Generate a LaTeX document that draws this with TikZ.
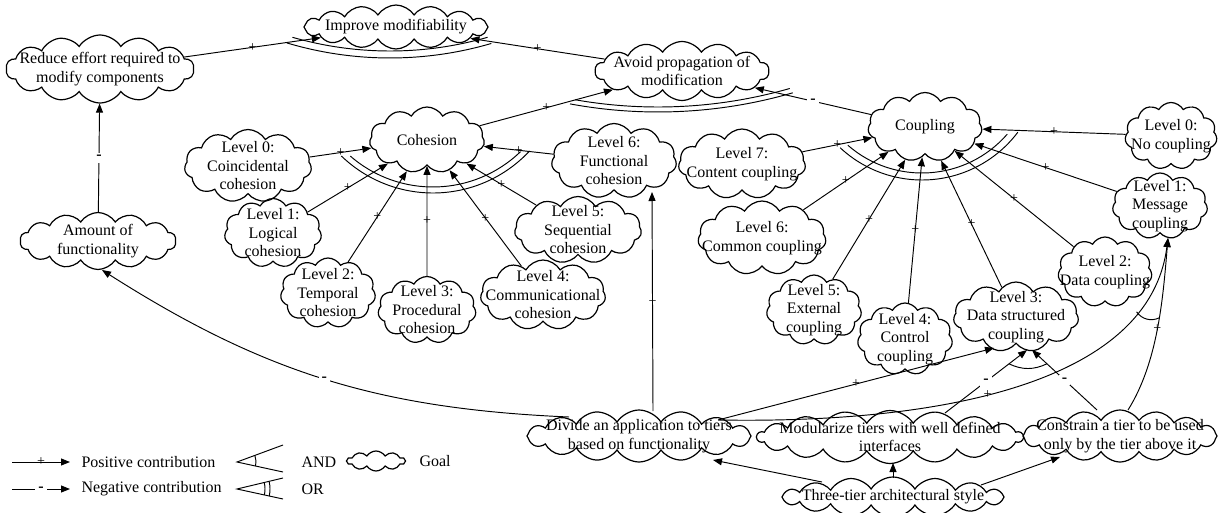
\documentclass[tikz,border=0pt]{standalone}
\usepackage{fontspec}
\setmainfont{Liberation Serif}
\usetikzlibrary{shapes.symbols,arrows.meta}

\begin{document}
\begin{tikzpicture}[
    x=1pt,y=1pt,>={Triangle[length=9pt,width=7pt]},
    font=\fontsize{16}{18.5}\selectfont,
    goal/.style={cloud,cloud puffs=11,cloud puff arc=120,cloud ignores aspect,draw,line width=1.2pt,inner sep=0pt},
    wide goal/.style={goal,cloud puffs=16,cloud puff arc=115},
    goal size/.style 2 args={minimum width=#1pt,minimum height=#2pt},
    goal text/.style={align=center,inner sep=0pt},
    contrib/.style={->,line width=.95pt},
    plus sign/.style={midway,inner sep=0pt,font=\fontsize{14}{14}\selectfont},
    minus sign/.style={midway,fill=white,inner sep=3pt,font=\fontsize{16}{16}\selectfont\bfseries},
    decomp/.style={line width=.95pt}
  ]
    \useasboundingbox (0,0) rectangle (1222,-513);

    % Top softgoals
    \node[wide goal,goal size={184}{44},label={[goal text]center:{Improve modifiability}}] (imp) at (396,-27) {};
    \node[wide goal,cloud puffs=14,goal size={188}{68},label={[goal text]center:{Reduce effort required to\\modify components}}] (red) at (100,-69) {};
    \node[wide goal,cloud puffs=14,goal size={174}{59},label={[goal text]center:{Avoid propagation of\\modification}}] (avoid) at (682,-71) {};
    \node[wide goal,cloud puffs=14,goal size={156}{57},label={[goal text]center:{Amount of\\functionality}}] (amt) at (98,-241) {};

    % Cohesion and its levels
    \node[goal,goal size={115}{66},label={[goal text]center:{Cohesion}}] (coh) at (427,-140) {};
    \node[goal,goal size={127}{73},label={[goal text]center:{Level 0:\\Coincidental\\cohesion}}] (c0) at (248,-166) {};
    \node[goal,goal size={97}{69},label={[goal text]center:{Level 1:\\Logical\\cohesion}}] (c1) at (273,-233) {};
    \node[goal,goal size={95}{70},label={[goal text]center:{Level 2:\\Temporal\\cohesion}}] (c2) at (328,-293) {};
    \node[goal,goal size={98}{67},label={[goal text]center:{Level 3:\\Procedural\\cohesion}}] (c3) at (427,-310) {};
    \node[goal,goal size={125}{70},label={[goal text]center:{Level 4:\\Communicational\\cohesion}}] (c4) at (543,-295) {};
    \node[goal,goal size={127}{67},label={[goal text]center:{Level 5:\\Sequential\\cohesion}}] (c5) at (578,-230) {};
    \node[goal,goal size={125}{75},label={[goal text]center:{Level 6:\\Functional\\cohesion}}] (c6) at (614,-161) {};

    % Coupling and its levels
    \node[goal,goal size={114}{69},label={[goal text]center:{Coupling}}] (coup) at (925,-127) {};
    \node[goal,goal size={127}{70},label={[goal text]center:{Level 7:\\Content coupling}}] (u7) at (742,-164) {};
    \node[goal,goal size={128}{74},label={[goal text]center:{Level 6:\\Common coupling}}] (u6) at (762,-238) {};
    \node[goal,goal size={95}{70},label={[goal text]center:{Level 5:\\External\\coupling}}] (u5) at (814,-310) {};
    \node[goal,goal size={95}{72},label={[goal text]center:{Level 4:\\Control\\coupling}}] (u4) at (905,-339) {};
    \node[goal,goal size={125}{70},label={[goal text]center:{Level 3:\\Data structured\\coupling}}] (u3) at (1016,-317) {};
    \node[goal,goal size={94}{70},label={[goal text]center:{Level 2:\\Data coupling}}] (u2) at (1105,-272) {};
    \node[goal,goal size={95}{66},label={[goal text]center:{Level 1:\\Message\\coupling}}] (u1) at (1160,-206) {};
    \node[goal,goal size={92}{67},label={[goal text]center:{Level 0:\\No coupling}}] (u0) at (1171,-136) {};

    % Tactics of the architectural style
    \node[wide goal,goal size={224}{52},label={[goal text]center:{Divide an application to tiers\\based on functionality}}] (div) at (639,-436) {};
    \node[wide goal,cloud puffs=18,goal size={266}{53},label={[goal text]center:{Modularize tiers with well defined\\interfaces}}] (mod) at (890,-437) {};
    \node[wide goal,goal size={194}{52},label={[goal text]center:{Constrain a tier to be used\\only by the tier above it}}] (con) at (1120,-436) {};
    \node[wide goal,goal size={222}{40},label={[goal text]center:{Three-tier architectural style}}] (three) at (893,-497) {};

    % Contributions to the top softgoals
    \draw[contrib] (red) -- node[plus sign]{+} (imp);
    \draw[contrib] (avoid) -- node[plus sign]{+} (imp);
    \draw[contrib] (coh) -- node[plus sign]{+} (avoid);
    \draw[contrib] (coup) -- node[minus sign]{-} (avoid);
    \draw[contrib] (amt) -- node[minus sign]{-} (red);

    % Cohesion levels
    \draw[contrib] (c0) -- node[plus sign]{+} (coh);
    \draw[contrib] (c1) -- node[plus sign]{+} (coh);
    \draw[contrib] (c2) -- node[plus sign]{+} (coh);
    \draw[contrib] (c3) -- node[plus sign]{+} (coh);
    \draw[contrib] (c4) -- node[plus sign]{+} (coh);
    \draw[contrib] (c5) -- node[plus sign]{+} (coh);
    \draw[contrib] (c6) -- node[plus sign]{+} (coh);

    % Coupling levels
    \draw[contrib] (u7) -- node[plus sign]{+} (coup);
    \draw[contrib] (u6) -- node[plus sign]{+} (coup);
    \draw[contrib] (u5) -- node[plus sign]{+} (coup);
    \draw[contrib] (u4) -- node[plus sign]{+} (coup);
    \draw[contrib] (u3) -- node[plus sign]{+} (coup);
    \draw[contrib] (u2) -- node[plus sign]{+} (coup);
    \draw[contrib] (u1) -- node[plus sign]{+} (coup);
    \draw[contrib] (u0) -- node[plus sign]{+} (coup);

    % OR decompositions (double arcs)
    \draw[decomp] (390,303) ++(-106.6:361) arc[start angle=-106.6,end angle=-73.7,radius=361];
    \draw[decomp] (390,303) ++(-106:354) arc[start angle=-106,end angle=-74,radius=354];
    \draw[decomp] (658,371) ++(-100.5:483) arc[start angle=-100.5,end angle=-73.8,radius=483];
    \draw[decomp] (658,371) ++(-100:478) arc[start angle=-100,end angle=-74,radius=478];
    \draw[decomp] (433,-61) ++(-134:132) arc[start angle=-134,end angle=-43,radius=132];
    \draw[decomp] (433,-61) ++(-131:126) arc[start angle=-131,end angle=-46,radius=126];
    \draw[decomp] (922,-60) ++(-133:120) arc[start angle=-133,end angle=-37,radius=120];
    \draw[decomp] (922,-60) ++(-131:113) arc[start angle=-131,end angle=-41,radius=113];

    % Tactics
    \draw[contrib] ([shift={(14,25)}]div.center) -- node[plus sign]{+} ([shift={(38,-31)}]c6.center);
    \draw[contrib] ([shift={(-70,19)}]div.center) to[bend left=15] node[minus sign]{-} ([shift={(4,-29)}]amt.center);
    \draw[contrib] ([shift={(79,16)}]div.center) -- node[plus sign]{+} ([shift={(-22,-31)}]u3.center);
    \draw[contrib] ([shift={(79,16)}]div.center) .. controls +(232,-4) and +(-18,-142) ..
      node[plus sign,pos=.43]{+} coordinate[pos=.8] (and1l) ([shift={(8,-32)}]u1.center);
    \draw[contrib] ([shift={(55,24)}]mod.center) -- node[minus sign]{-} coordinate[pos=.78] (and3l) ([shift={(11,-33)}]u3.center);
    \draw[contrib] ([shift={(-23,26)}]con.center) -- node[minus sign]{-} coordinate[pos=.77] (and3r) ([shift={(16,-33)}]u3.center);
    \draw[contrib] ([shift={(8,26)}]con.center) .. controls +(30,48) and +(-5,-60) ..
      node[plus sign]{+} coordinate[pos=.56] (and1r) ([shift={(8,-32)}]u1.center);

    % AND decompositions
    \draw[decomp] (and3l) to[bend right=25] (and3r);
    \draw[decomp] (and1l) to[bend right=40] (and1r);

    % The style realises the three tactics
    \draw[contrib] ([shift={(-71,15)}]three.center) -- ([shift={(74,-24)}]div.center);
    \draw[contrib] ([shift={(0,19)}]three.center) -- ([shift={(3,-26)}]mod.center);
    \draw[contrib] ([shift={(88,12)}]three.center) -- ([shift={(-60,-21)}]con.center);

    % Legend
    \coordinate (lgpa) at (12,-462);
    \coordinate (lgpb) at (70,-462);
    \draw[contrib] (lgpa) -- node[plus sign]{+} (lgpb);
    \node[anchor=west] (lgpos) at (78,-462) {Positive contribution};
    \coordinate (lgna) at (12,-489);
    \coordinate (lgnb) at (70,-489);
    \draw[contrib] (lgna) -- node[minus sign]{-} (lgnb);
    \node[anchor=west] (lgneg) at (78,-489) {Negative contribution};

    \coordinate (lgand) at (237,-462);
    \draw[decomp] (283,-445) -- (lgand) -- (283,-472);
    \draw[decomp] (lgand) ++(20:19) arc[start angle=20,end angle=-12,radius=19];
    \node[anchor=west] (lgandtext) at (298,-462) {AND};
    \coordinate (lgor) at (237,-489);
    \draw[decomp] (283,-478) -- (lgor) -- (283,-499);
    \draw[decomp] (lgor) ++(13:28) arc[start angle=13,end angle=-12,radius=28];
    \draw[decomp] (lgor) ++(13:33) arc[start angle=13,end angle=-12,radius=33];
    \node[anchor=west] (lgortext) at (298,-489) {OR};

    \node[wide goal,cloud puffs=10,goal size={58}{20}] (lggoal) at (376,-461) {};
    \node[anchor=west] (lggoaltext) at (416,-461) {Goal};
  \end{tikzpicture}
\end{document}
